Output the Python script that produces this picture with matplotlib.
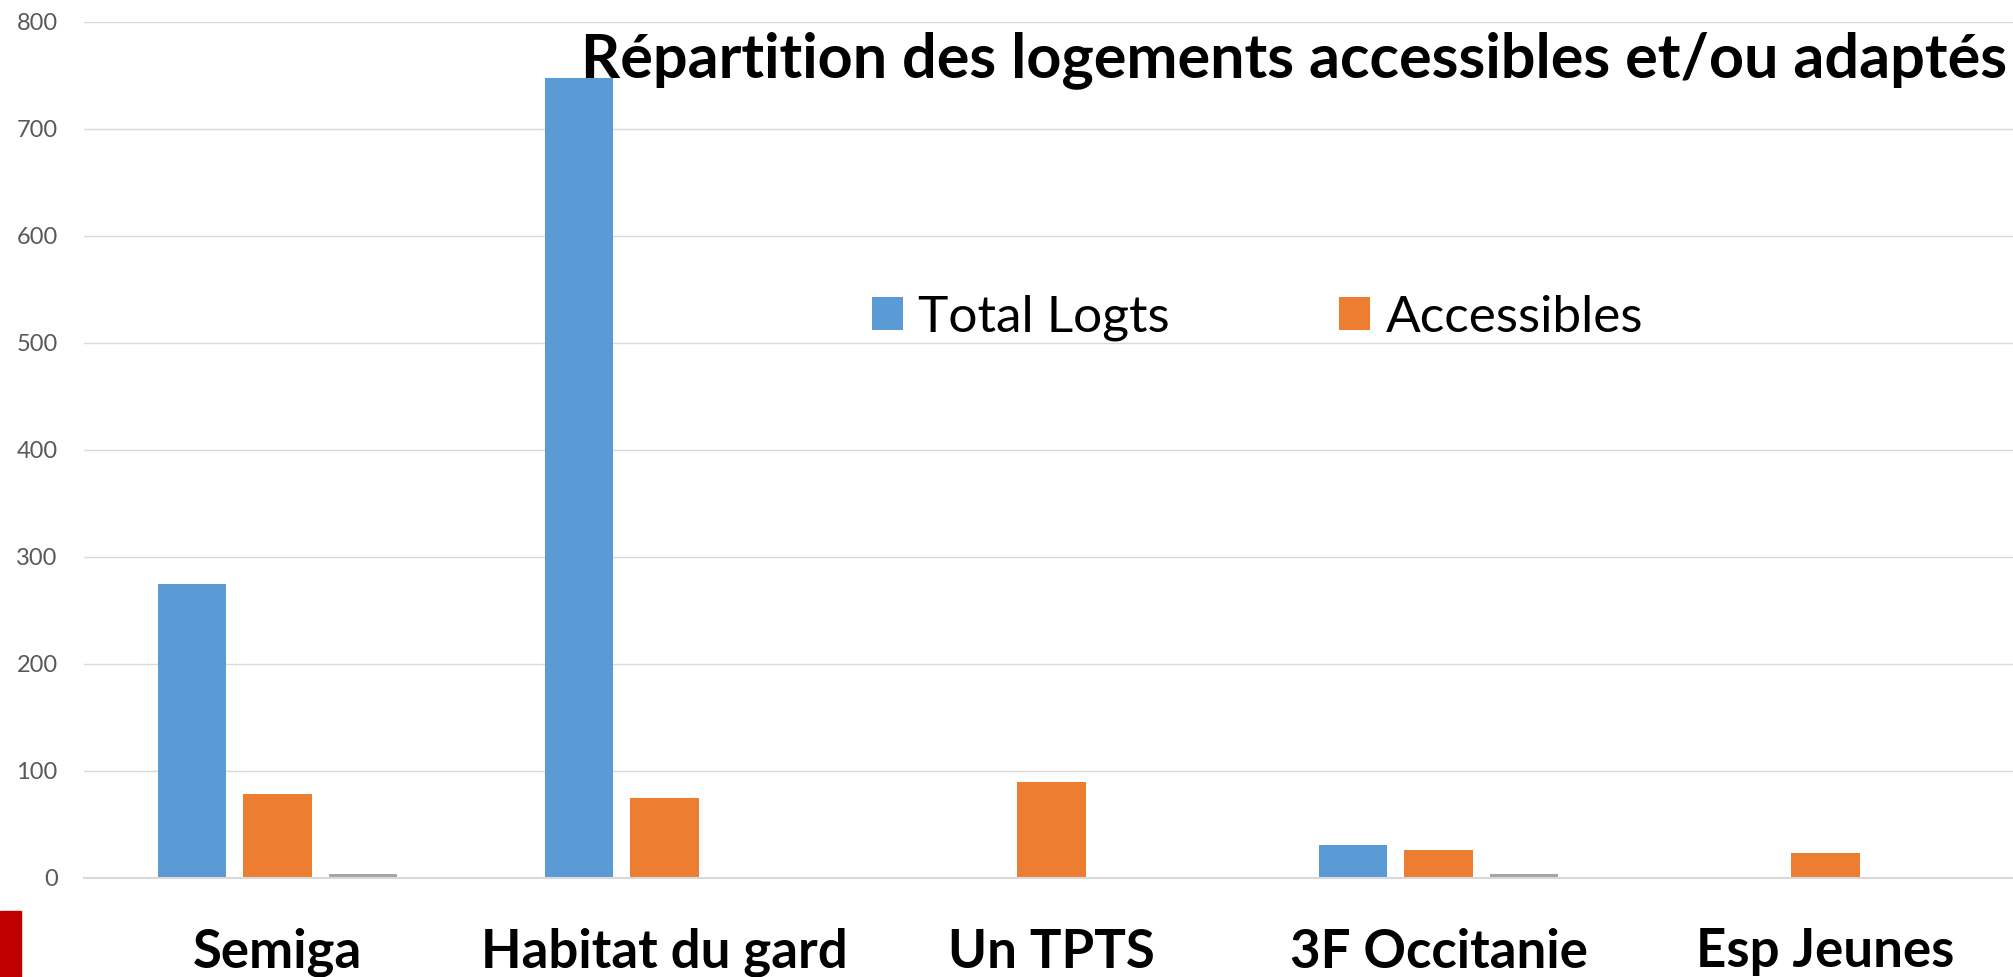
import numpy as np
import matplotlib
matplotlib.use("Agg")
import matplotlib.pyplot as plt
from matplotlib.patches import Rectangle

# data
categories = ["Semiga", "Habitat du gard", "Un TPTS", "3F Occitanie", "Esp Jeunes"]
total_logts = [274, 748, 0, 30, 0]
accessibles = [78, 74, 89, 26, 23]
adaptes = [3, 0, 0, 3, 0]
yticks = [0, 100, 200, 300, 400, 500, 600, 700, 800]

plt.rcParams['font.family'] = ['Lato', 'DejaVu Sans']

fig = plt.figure(figsize=(20.13, 9.77), dpi=100)
ax = fig.add_axes([84 / 2013, 99.5 / 977, 1935 / 2013, 855.5 / 977])

x = np.arange(len(categories))
w = 0.176
step = 0.22
b1 = ax.bar(x - step, total_logts, w, color='#5B9BD5', label='Total Logts')
b2 = ax.bar(x, accessibles, w, color='#ED7D31', label='Accessibles')
b3 = ax.bar(x + step, adaptes, w, color='#A5A5A5')

ax.set_xlim(-0.5, len(categories) - 0.5)
ax.set_ylim(0, 800)
ax.set_yticks(yticks)
ax.set_yticklabels([str(v) for v in yticks], fontsize=17, color='#595959')
ax.set_xticks(x)
ax.set_xticklabels(categories, fontsize=38, fontweight='bold', color='black')
ax.tick_params(axis='y', length=0, pad=19)
ax.tick_params(axis='x', length=0, pad=36)

ax.grid(axis='y', color='#D9D9D9', linewidth=1)
ax.set_axisbelow(True)
for s in ['top', 'right', 'left']:
    ax.spines[s].set_visible(False)
ax.spines['bottom'].set_color('#D9D9D9')
ax.spines['bottom'].set_linewidth(1.5)

fig.text(2007 / 2013, 1 - 60 / 977, "Répartition des logements accessibles et/ou adaptés",
         ha='right', va='center', fontsize=44, fontweight='bold', color='black')

fig.legend(handles=[b1, b2], loc='center left', bbox_to_anchor=(872 / 2013, 1 - 318 / 977),
           ncol=2, frameon=False, fontsize=37, handlelength=0.6, handleheight=0.6,
           handletextpad=0.3, columnspacing=3.3, borderaxespad=0, borderpad=0)

# logo fragment at bottom-left corner
fig.patches.append(Rectangle((0, 0), 21 / 2013, 66 / 977, transform=fig.transFigure,
                             color='#C00000', zorder=5))

fig.savefig("out.png", dpi=100)
